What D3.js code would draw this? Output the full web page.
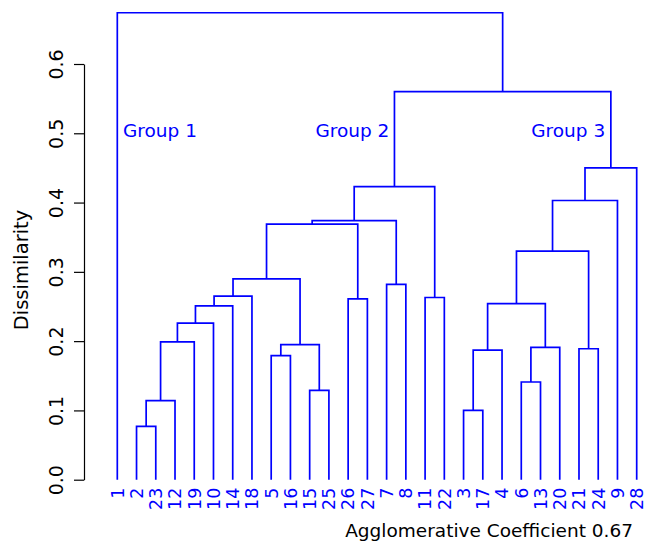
<!DOCTYPE html>
<html><head><meta charset="utf-8">
<script src="https://cdn.jsdelivr.net/npm/d3@7"></script>
<style>body{margin:0;background:#fff}svg{display:block}</style>
</head><body><svg id="c" width="647" height="544"></svg>
<script>
const leafOrder = [1,2,23,12,19,10,14,18,5,16,15,25,26,27,7,8,11,22,3,17,4,6,13,20,21,24,9,28];
// hclust-style merges: negative = leaf label, positive = earlier merge step (1-based)
const mergeLeft  = [-2,-3,1,-15,-6,-5,2,-21,5,6,3,11,12,7,-26,-11,13,-7,17,14,19,21,20,22,23,24,-1];
const mergeRight = [-23,-17,-12,-25,-13,-16,-4,-24,-20,4,-19,-10,-14,9,-27,-22,-18,-8,10,8,15,18,-9,16,-28,25,26];
const mergeHeight = [0.077,0.100,0.114,0.129,0.141,0.179,0.187,0.189,0.191,0.195,0.199,0.226,0.251,0.254,0.261,0.263,0.265,0.282,0.290,0.330,0.369,0.374,0.403,0.423,0.450,0.560,0.674];
const yTicks = [0,0.1,0.2,0.3,0.4,0.5,0.6];
const groupLabels = ["Group 1","Group 2","Group 3"];
const groupPos = [3.22, 13.22, 24.44]; // in leaf-index units (1-based)
const groupHeight = 0.5;
const yTitle = "Dissimilarity";
const subTitle = "Agglomerative Coefficient 0.67";

const FONT = "DejaVu Sans";
const BLUE = "#0000ff";
const svg = d3.select("#c");

function build(k){
  if (k < 0) return {name: String(-k), h: 0};
  return {name: "m"+k, h: mergeHeight[k-1], children: [build(mergeLeft[k-1]), build(mergeRight[k-1])]};
}
const root = d3.hierarchy(build(mergeHeight.length));

const x = d3.scalePoint().domain(leafOrder.map(String)).range([117.3, 636.7]);
const xi = d3.scaleLinear().domain([1, leafOrder.length]).range([117.3, 636.7]);
const y = d3.scaleLinear().domain([0, 0.6]).range([479.7, 64]);

root.eachAfter(n => {
  if (!n.children) n.px = x(n.data.name);
  else n.px = (n.children[0].px + n.children[1].px) / 2;
});

const g = svg.append("g");
g.selectAll("path.link").data(root.descendants().filter(n => n.children))
  .join("path").attr("class","link")
  .attr("fill","none").attr("stroke",BLUE).attr("stroke-width",1.7)
  .attr("d", n => {
    const [a,b] = n.children;
    return `M${a.px},${y(a.data.h)}V${y(n.data.h)}H${b.px}V${y(b.data.h)}`;
  });

// leaf labels
g.selectAll("text.leaf").data(root.leaves()).join("text").attr("class","leaf")
  .attr("transform", n => `translate(${n.px},${y(0)+8}) rotate(-90)`)
  .attr("dy","0.36em").attr("text-anchor","end")
  .attr("font-family",FONT).attr("font-size",17.5).attr("fill",BLUE)
  .text(n => n.data.name);

// group labels
g.selectAll("text.grp").data(groupLabels).join("text").attr("class","grp")
  .attr("x",(d,i)=>xi(groupPos[i])).attr("y", y(groupHeight)+4)
  .attr("text-anchor","middle").attr("font-family",FONT).attr("font-size",18.5).attr("fill",BLUE)
  .text(d=>d);

// axis
const ax = svg.append("g").attr("transform","translate(84,0)")
  .call(d3.axisLeft(y).tickValues(yTicks).tickSize(10).tickSizeOuter(0).tickFormat(d3.format(".1f")));
ax.select(".domain").attr("stroke","#000").attr("stroke-width",1.2);
ax.selectAll(".tick line").attr("stroke","#000").attr("stroke-width",1.2);
ax.selectAll(".tick text").attr("x",null).attr("dy",null)
  .attr("transform","translate(-21,0) rotate(-90)")
  .attr("text-anchor","middle").attr("fill","#000")
  .attr("font-family",FONT).attr("font-size",19);

svg.append("text").attr("transform","translate(28,270) rotate(-90)")
  .attr("text-anchor","middle").attr("font-family",FONT).attr("font-size",19.5).attr("fill","#000")
  .text(yTitle);

svg.append("text").attr("x",633).attr("y",537).attr("text-anchor","end")
  .attr("font-family",FONT).attr("font-size",18.5).attr("fill","#000")
  .text(subTitle);
</script></body></html>
